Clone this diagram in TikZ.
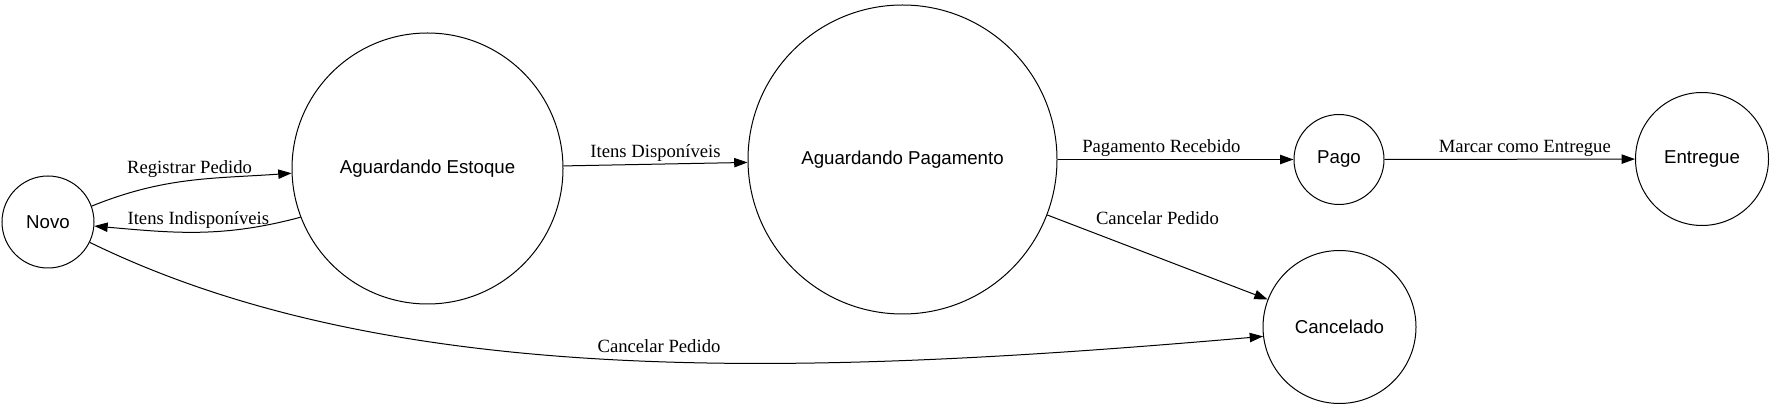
\documentclass[tikz,border=0pt]{standalone}
\usepackage{fontspec}
\setmainfont{Liberation Serif}
\setsansfont{Liberation Sans}
\usetikzlibrary{arrows.meta,positioning}

\begin{document}
\begin{tikzpicture}[
    x=0.75pt,y=0.75pt,
    estado/.style={draw,circle,line width=0.75pt,inner sep=0pt,font=\sffamily\fontsize{14}{16}\selectfont},
    arrow/.style={-{Triangle[length=10pt,width=7pt]},line width=0.75pt},
    lbl/.style={font=\fontsize{14}{16}\selectfont,inner sep=2pt}
  ]
    \useasboundingbox (0,0) rectangle (1775,-409);
    \node[estado,minimum size=69pt] (novo) at (48,-222) {Novo};
    \node[estado,minimum size=203.25pt] (estoque) at (427.5,-168.5) {Aguardando Estoque};
    \node[estado,minimum size=231.75pt] (pagamento) at (902.5,-159.5) {Aguardando Pagamento};
    \node[estado,minimum size=67.5pt] (pago) at (1339,-159.5) {Pago};
    \node[estado,minimum size=99.75pt] (entregue) at (1702,-159) {Entregue};
    \node[estado,minimum size=114.75pt] (cancelado) at (1339.5,-327) {Cancelado};
    \draw[arrow] (novo.20) to[out=22,in=184] node[lbl,above,midway] {Registrar Pedido} (estoque.182);
    \draw[arrow] (estoque.201) to[out=195,in=-5] node[lbl,above,midway] {Itens Indisponíveis} (novo.-5);
    \draw[arrow] (estoque) -- node[lbl,above] {Itens Disponíveis} (pagamento);
    \draw[arrow] (pagamento) -- node[lbl,above,pos=0.44] {Pagamento Recebido} (pago);
    \draw[arrow] (pago) -- node[lbl,above,pos=0.56] {Marcar como Entregue} (entregue);
    \draw[arrow] (pagamento) -- node[lbl,above=22pt,midway] {Cancelar Pedido} (cancelado);
    \draw[arrow] (novo.-26) .. controls (395.6,-392) and (814.7,-375.2) .. node[lbl,above=4pt,pos=0.53] {Cancelar Pedido} (cancelado.187);
\end{tikzpicture}
\end{document}
